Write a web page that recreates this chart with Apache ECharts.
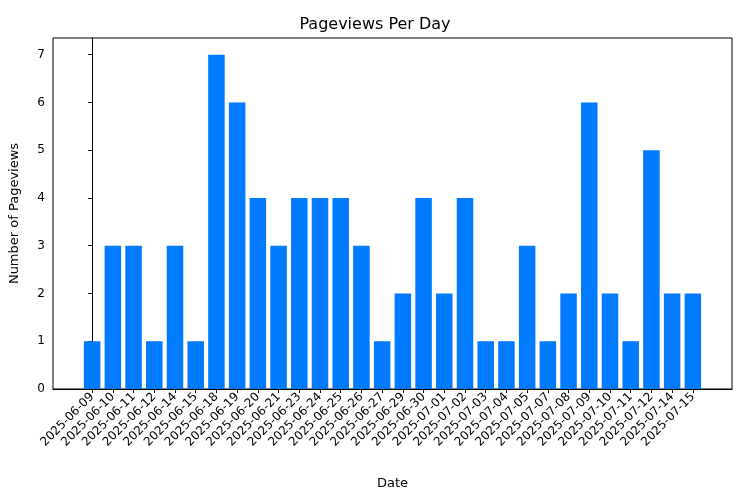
<!DOCTYPE html>
<html>
<head>
<meta charset="utf-8">
<script src="https://cdn.jsdelivr.net/npm/echarts@6/dist/echarts.min.js"></script>
</head>
<body style="margin:0">
<div id="chart" style="width:750px;height:500px"></div>
<script>
// dates and daily pageview counts
var dates = ['2025-06-09','2025-06-10','2025-06-11','2025-06-12','2025-06-14','2025-06-15',
    '2025-06-18','2025-06-19','2025-06-20','2025-06-21','2025-06-23','2025-06-24','2025-06-25',
    '2025-06-26','2025-06-27','2025-06-29','2025-06-30','2025-07-01','2025-07-02','2025-07-03',
    '2025-07-04','2025-07-05','2025-07-07','2025-07-08','2025-07-09','2025-07-10','2025-07-11',
    '2025-07-12','2025-07-14','2025-07-15'];
var pageviews = [1,3,3,1,3,1,7,6,4,3,4,4,4,3,1,2,4,2,4,1,1,3,1,2,6,2,1,5,2,2];
var yTicks = [0,1,2,3,4,5,6,7];

var myChart = echarts.init(document.getElementById('chart'));
var positions = dates.map(function (d, i) { return i; });
var font = 'DejaVu Sans';
var option = {
    animation: false,
    textStyle: { fontFamily: font },
    title: {
        text: 'Pageviews Per Day', left: 'center', top: 12,
        textStyle: { fontSize: 16, fontWeight: 'normal', color: '#000', fontFamily: font }
    },
    grid: { left: 53, right: 18, top: 38, bottom: 111, show: true,
        borderColor: '#000', borderWidth: 1, backgroundColor: 'transparent' },
    xAxis: {
        type: 'value', min: -1.89, max: 30.89,
        name: 'Date', nameLocation: 'middle', nameGap: 88,
        nameTextStyle: { fontSize: 13, color: '#000' },
        splitLine: { show: false },
        axisLine: { show: true, lineStyle: { color: '#000' } },
        axisTick: { show: true, customValues: positions, length: 4, lineStyle: { color: '#000' } },
        axisLabel: {
            customValues: positions, rotate: 45, fontSize: 12, color: '#000', margin: 6,
            formatter: function (v) { return dates[Math.round(v)]; }
        }
    },
    yAxis: {
        type: 'value', min: 0, max: 7.35,
        name: 'Number of Pageviews', nameLocation: 'middle', nameGap: 32,
        nameTextStyle: { fontSize: 13, color: '#000' },
        splitLine: { show: false },
        axisLine: { show: true, lineStyle: { color: '#000' } },
        axisTick: { show: true, customValues: yTicks, length: 4, lineStyle: { color: '#000' } },
        axisLabel: { customValues: yTicks, fontSize: 12, color: '#000' }
    },
    series: [{
        type: 'bar',
        barWidth: 16.5,
        itemStyle: { color: '#007bff' },
        data: pageviews.map(function (v, i) { return [i, v]; })
    }]
};
myChart.setOption(option);
</script>
</body>
</html>
